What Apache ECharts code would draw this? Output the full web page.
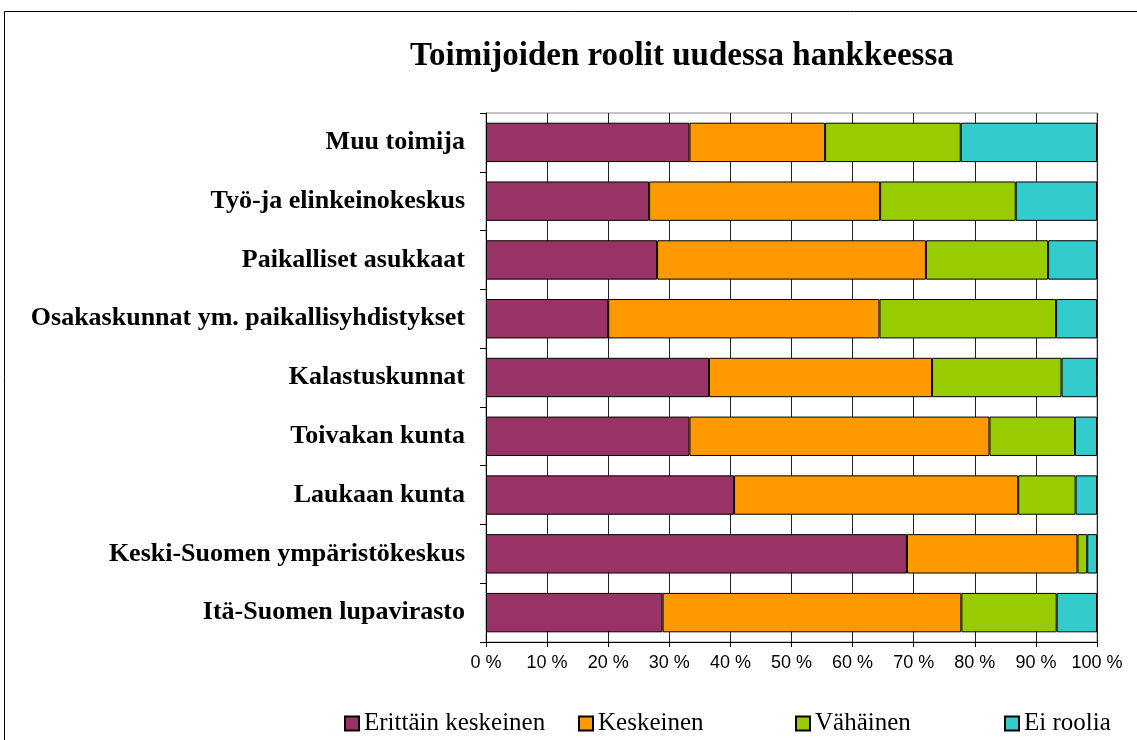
<!DOCTYPE html>
<html>
<head>
<meta charset="utf-8">
<script src="https://cdn.jsdelivr.net/npm/echarts@6/dist/echarts.min.js"></script>
<style>
  html, body { margin: 0; padding: 0; background: #fff; }
  #chart { width: 1137px; height: 740px; }
</style>
</head>
<body>
<div id="chart"></div>
<script>
// kategoriat ylhäältä alas
const categories = [
  'Muu toimija',
  'Työ-ja elinkeinokeskus',
  'Paikalliset asukkaat',
  'Osakaskunnat ym. paikallisyhdistykset',
  'Kalastuskunnat',
  'Toivakan kunta',
  'Laukaan kunta',
  'Keski-Suomen ympäristökeskus',
  'Itä-Suomen lupavirasto'
]
const seriesNames = ['Erittäin keskeinen', 'Keskeinen', 'Vähäinen', 'Ei roolia']
// osuudet prosentteina
const erittainKeskeinen = [33.3, 26.7, 28.0, 20.0, 36.5, 33.3, 40.6, 68.9, 28.9]
const keskeinen = [22.2, 37.8, 44.0, 44.4, 36.5, 49.1, 46.5, 27.9, 48.9]
const vahainen = [22.2, 22.2, 20.0, 28.9, 21.2, 14.0, 9.4, 1.6, 15.6]
const eiRoolia = [22.3, 13.3, 8.0, 6.7, 5.8, 3.6, 3.5, 1.6, 6.6]
const xTicks = [0, 10, 20, 30, 40, 50, 60, 70, 80, 90, 100]

const colors = ['#993366', '#FF9900', '#99CC00', '#33CCCC']
const values = [erittainKeskeinen, keskeinen, vahainen, eiRoolia]
const legendLeft = [344, 578, 795, 1004]

const chart = echarts.init(document.getElementById('chart'))

const option = {
  animation: false,
  title: {
    text: 'Toimijoiden roolit uudessa hankkeessa',
    left: 405,
    top: 35,
    textStyle: {
      fontFamily: 'Liberation Serif',
      fontWeight: 'bold',
      fontSize: 33,
      color: '#000'
    }
  },
  graphic: [
    {
      type: 'rect',
      shape: { x: 4.5, y: 11.5, width: 1200, height: 800 },
      style: { fill: 'none', stroke: '#000', lineWidth: 1 },
      silent: true
    }
  ],
  legend: seriesNames.map((name, i) => ({
    data: [name],
    left: legendLeft[i],
    top: 711,
    padding: 0,
    itemWidth: 14,
    itemHeight: 14,
    itemGap: 5,
    icon: 'rect',
    selectedMode: false,
    textStyle: {
      fontFamily: 'Liberation Serif',
      fontSize: 25,
      color: '#000'
    }
  })),
  grid: {
    left: 486,
    right: 40,
    top: 113,
    bottom: 98,
    show: true,
    borderColor: '#888',
    borderWidth: 1
  },
  xAxis: {
    type: 'value',
    min: 0,
    max: 100,
    interval: 10,
    axisLine: { show: true, lineStyle: { color: '#000', width: 1 } },
    axisTick: { show: true, length: 5, lineStyle: { color: '#000' } },
    axisLabel: {
      formatter: (v) => xTicks.includes(v) ? v + ' %' : '',
      fontFamily: 'Liberation Sans',
      fontSize: 18,
      color: '#000',
      margin: 12
    },
    splitLine: { show: true, lineStyle: { color: '#222', width: 1 } }
  },
  yAxis: {
    type: 'category',
    data: categories,
    inverse: true,
    axisLine: { show: true, lineStyle: { color: '#000', width: 1 } },
    axisTick: { show: true, length: 6, lineStyle: { color: '#000' } },
    axisLabel: {
      fontFamily: 'Liberation Serif',
      fontWeight: 'bold',
      fontSize: 26,
      color: '#000',
      margin: 21
    }
  },
  series: seriesNames.map((name, i) => ({
    name: name,
    type: 'bar',
    stack: 'total',
    barCategoryGap: '33%',
    data: values[i],
    itemStyle: {
      color: colors[i],
      borderColor: '#000',
      borderWidth: 1
    }
  }))
}

chart.setOption(option)
</script>
</body>
</html>
